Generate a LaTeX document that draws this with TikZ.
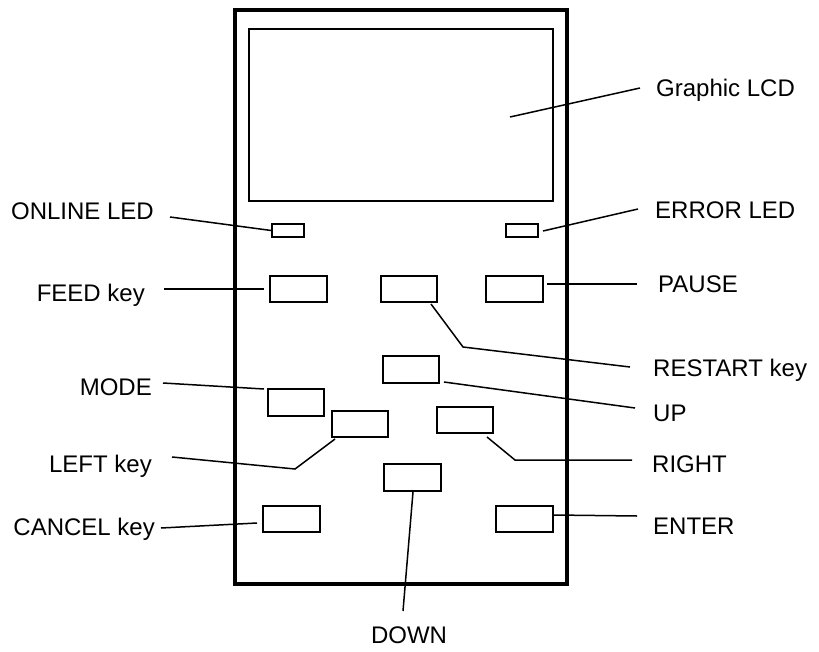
\documentclass[tikz,border=0pt]{standalone}
\usepackage{fontspec}
\setmainfont{Liberation Sans}
\begin{document}
\begin{tikzpicture}[x=1pt,y=-1pt,
  keybox/.style={draw=black,line width=1.5pt,inner sep=0pt,minimum width=56pt,minimum height=26pt},
  ledbox/.style={draw=black,line width=1.5pt,inner sep=0pt,minimum width=32pt,minimum height=13pt},
  lead/.style={draw=black,line width=1.5pt},
  lbl/.style={inner sep=0pt,font=\fontsize{24}{28}\selectfont},
  lblL/.style={lbl,anchor=base east},
  lblR/.style={lbl,anchor=base west}]
\useasboundingbox (0,0) rectangle (819,651);
% housing and display
\draw[line width=4pt] (235,10) rectangle (567,584);
\node[draw=black,line width=1.4pt,inner sep=0pt,minimum width=304pt,minimum height=172pt] (lcd) at (401,115) {};
% LEDs and keys
\node[ledbox] (online) at (288,230.5) {};
\node[ledbox] (error) at (522,230.5) {};
\node[keybox,minimum width=57pt] (feed) at (298.5,289) {};
\node[keybox] (restart) at (409,289) {};
\node[keybox,minimum width=57pt] (pause) at (514.5,289) {};
\node[keybox,minimum height=27pt] (up) at (411,369.5) {};
\node[keybox,minimum height=27pt] (mode) at (296,402.5) {};
\node[keybox] (left) at (360,424) {};
\node[keybox] (right) at (465,420) {};
\node[keybox,minimum width=57pt,minimum height=27pt] (down) at (412.5,477.5) {};
\node[keybox,minimum width=57pt] (cancel) at (291.5,519) {};
\node[keybox,minimum width=57pt] (enter) at (524.5,519) {};
% labels
\node[lblR] (tlcd) at (656,96) {Graphic LCD};
\node[lblL] (tonline) at (154,219) {ONLINE LED};
\node[lblR] (terror) at (655,218) {ERROR LED};
\node[lblL] (tfeed) at (145,301) {FEED key};
\node[lblR] (tpause) at (658,292) {PAUSE};
\node[lblR] (trestart) at (653,376) {RESTART key};
\node[lblR] (tup) at (653,421) {UP};
\node[lblL] (tmode) at (152,395) {MODE};
\node[lblL] (tleft) at (152,472) {LEFT key};
\node[lblR] (tright) at (652,472) {RIGHT};
\node[lbl,anchor=base] (tdown) at (409,643) {DOWN};
\node[lblL] (tcancel) at (155,535) {CANCEL key};
\node[lblR] (tenter) at (653,534) {ENTER};
% leader line ends
\coordinate (lcdA) at (510,117);   \coordinate (lcdB) at (640,88);
\coordinate (onB) at (170,217);
\coordinate (erA) at (543,231);    \coordinate (erB) at (638,209);
\coordinate (feA) at (264,289);    \coordinate (feB) at (164,289);
\coordinate (reA) at (431,304);    \coordinate (reM) at (463,347); \coordinate (reB) at (630,367);
\coordinate (paA) at (547,284);    \coordinate (paB) at (637,284);
\coordinate (upA) at (444,382);    \coordinate (upB) at (635,408);
\coordinate (moA) at (264,389);    \coordinate (moB) at (163,383);
\coordinate (leA) at (335,439);    \coordinate (leM) at (295,469); \coordinate (leB) at (172,457);
\coordinate (riA) at (487,437);    \coordinate (riM) at (515,460); \coordinate (riB) at (632,460);
\coordinate (doA) at (413,492);    \coordinate (doB) at (403,611);
\coordinate (caA) at (257,523);    \coordinate (caB) at (161,528);
\coordinate (enA) at (554,515);    \coordinate (enB) at (637,516);
% leaders
\draw[lead] (lcdA) -- (lcdB);
\draw[lead] (online.west) -- (onB);
\draw[lead] (erA) -- (erB);
\draw[lead] (feA) -- (feB);
\draw[lead] (reA) -- (reM) -- (reB);
\draw[lead] (paA) -- (paB);
\draw[lead] (upA) -- (upB);
\draw[lead] (moA) -- (moB);
\draw[lead] (leA) -- (leM) -- (leB);
\draw[lead] (riA) -- (riM) -- (riB);
\draw[lead] (doA) -- (doB);
\draw[lead] (caA) -- (caB);
\draw[lead] (enA) -- (enB);
\end{tikzpicture}
\end{document}
